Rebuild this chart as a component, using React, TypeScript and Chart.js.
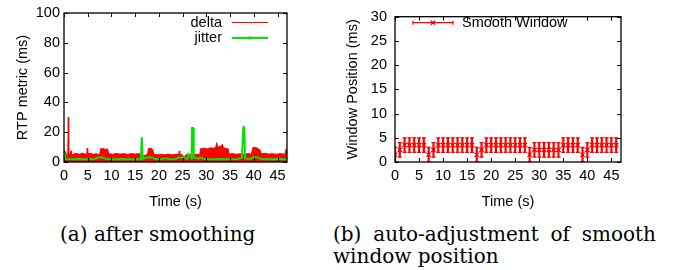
import React, { useEffect, useRef } from "react";
import { Chart, registerables } from "chart.js";

Chart.register(...registerables);

const FONT = "'Liberation Sans', Arial, Helvetica, sans-serif";
const FS = 14.5;
const RED = "#ff0000";
const GREEN = "#00e400";

// ---------- (a) after smoothing ----------
const xTickStep = 5;
const timeMax = 47;
const rtpTickStep = 20;
const rtpMax = 100;

const deltaTime = [
  0, 0.3, 0.6, 0.8, 0.9, 1.0, 1.2, 1.5, 1.6, 1.8, 2.5, 3.2, 3.8, 4.5, 4.8, 4.9, 5.0, 5.5, 6.2, 6.9,
  7.5, 7.7, 8.2, 8.8, 9.2, 9.4, 10.2, 11.0, 11.8, 12.6, 13.4, 14.2, 15.0, 15.8, 16.3, 16.6, 17.1, 17.6,
  17.8, 18.3, 18.7, 18.9, 19.6, 20.4, 21.2, 22.0, 22.8, 23.6, 24.2, 24.3, 24.4, 25.0, 25.2, 25.8, 26.5,
  27.2, 27.9, 28.6, 28.8, 29.5, 30.2, 30.9, 31.6, 32.0, 32.2, 32.4, 33.0, 33.4, 33.6, 34.1, 34.6, 34.8,
  35.5, 36.3, 37.1, 37.9, 38.7, 39.5, 39.8, 40.3, 40.8, 41.3, 41.6, 42.3, 43.1, 43.9, 44.7, 45.5, 46.2,
  46.6, 46.8, 47,
];
const deltaValues = [
  7, 7, 4.5, 4.5, 30, 4.5, 5, 7.5, 5.5, 5, 5.8, 5.2, 5.9, 5.3, 5.5, 9.2, 5.5, 5.8, 5.2, 5.6,
  4.5, 8.8, 9, 8.4, 8.8, 5.6, 5.2, 5.7, 5.3, 5.6, 5.2, 5.6, 5.3, 5.6, 5.2, 4.0, 4.5, 5,
  9, 9.3, 8.5, 5.2, 4.8, 5.2, 4.9, 5.3, 4.8, 5.2, 5, 7.4, 5, 4.8, 3, 5, 5.2,
  4.8, 5.2, 5, 9, 9.3, 8.8, 9.5, 9.2, 10, 13, 10, 10.5, 11.9, 9.5, 9.2, 8.8, 5.4,
  5.6, 5.2, 5.5, 5.2, 5.6, 5.3, 9.6, 9.8, 9.2, 8, 5.5, 5.8, 5.3, 5.6, 5.2, 5.6, 5.3,
  5.4, 8.7, 8.7,
];

const jitterTime = [
  0, 0.2, 0.35, 1.5, 3, 5, 6.5, 7.2, 8, 8.8, 10, 12, 14, 16.2, 16.4, 16.6, 17.3, 18.5, 19.2, 20.5,
  21.3, 22.2, 23.5, 24.2, 25.4, 26.0, 26.2, 26.6, 26.9, 27.0, 27.2, 27.35, 28.3, 28.7, 29.5, 31, 33,
  35, 36.8, 37.5, 37.8, 38.0, 38.15, 39.3, 39.8, 40.8, 41.5, 43, 45, 47,
];
const jitterValues = [
  8.5, 8.5, 2, 1.8, 2, 1.8, 2, 3, 3.2, 2.2, 1.8, 2, 1.8, 2, 16.5, 2, 3, 3.2, 2, 1.8,
  2.5, 1.8, 2, 3, 3, 2, 5.2, 4, 2.5, 22.8, 22.8, 3, 2.2, 3, 2, 1.8, 2,
  1.8, 2, 3, 23.3, 23.3, 2.5, 2, 3, 3.2, 2, 1.8, 2, 1.8,
];

// ---------- (b) auto-adjustment of smooth window position ----------
const windowTickStep = 5;
const windowMax = 30;
const windowTime = [
  0, 1, 2, 3, 4, 5, 6, 7, 8, 9, 10, 11, 12, 13, 14, 15, 16, 17, 18, 19, 20, 21, 22, 23,
  24, 25, 26, 27, 28, 29, 30, 31, 32, 33, 34, 35, 36, 37, 38, 39, 40, 41, 42, 43, 44, 45, 46,
];
const windowPosition = [
  1.5, 2.5, 3.5, 3.5, 3.5, 3.5, 3.5, 1.5, 2.5, 3.5, 3.5, 3.5, 3.5, 3.5, 3.5, 3.5, 3.5, 1.5, 2.5,
  3.5, 3.5, 3.5, 3.5, 3.5, 3.5, 3.5, 3.5, 3.5, 1.5, 2.5, 2.5, 2.5, 2.5, 2.5, 2.5, 3.5, 3.5, 3.5,
  3.5, 1.5, 2.5, 3.5, 3.5, 3.5, 3.5, 3.5, 3.5,
];
const windowError = [
  1.5, 1.5, 1.5, 1.5, 1.5, 1.5, 1.5, 1.5, 1.5, 1.5, 1.5, 1.5, 1.5, 1.5, 1.5, 1.5, 1.5, 1.5, 1.5,
  1.5, 1.5, 1.5, 1.5, 1.5, 1.5, 1.5, 1.5, 1.5, 1.5, 1.5, 1.5, 1.5, 1.5, 1.5, 1.5, 1.5, 1.5, 1.5,
  1.5, 1.5, 1.5, 1.5, 1.5, 1.5, 1.5, 1.5, 1.5,
];

// ---------- plugins ----------
const frameTicksPlugin = {
  id: "frameTicks",
  afterDatasetsDraw(chart: any) {
    const { ctx, chartArea: a, scales } = chart;
    const L = 4;
    ctx.save();
    ctx.strokeStyle = "#000";
    ctx.lineWidth = 1;
    ctx.beginPath();
    scales.x.ticks.forEach((t: any) => {
      const px = Math.round(scales.x.getPixelForValue(t.value)) + 0.5;
      ctx.moveTo(px, a.bottom);
      ctx.lineTo(px, a.bottom - L);
      ctx.moveTo(px, a.top);
      ctx.lineTo(px, a.top + L);
    });
    scales.y.ticks.forEach((t: any) => {
      const py = Math.round(scales.y.getPixelForValue(t.value)) + 0.5;
      ctx.moveTo(a.left, py);
      ctx.lineTo(a.left + L, py);
      ctx.moveTo(a.right, py);
      ctx.lineTo(a.right - L, py);
    });
    ctx.stroke();
    ctx.lineWidth = 1.3;
    ctx.strokeRect(a.left, a.top, a.right - a.left, a.bottom - a.top);
    ctx.restore();
  },
};

const legendAPlugin = {
  id: "legendA",
  afterDraw(chart: any) {
    const ctx = chart.ctx;
    const items = chart.data.datasets.filter((d: any) => d.label);
    ctx.save();
    ctx.font = `${FS}px ${FONT}`;
    ctx.textBaseline = "middle";
    ctx.textAlign = "right";
    items.forEach((d: any, i: number) => {
      const y = 22.5 + i * 15.5;
      ctx.fillStyle = "#000";
      ctx.fillText(d.label, 222, y);
      ctx.strokeStyle = d.borderColor;
      ctx.lineWidth = d.borderWidth;
      ctx.beginPath();
      ctx.moveTo(232, y);
      ctx.lineTo(268, y);
      ctx.stroke();
      if (d.legendPoint) {
        ctx.fillStyle = d.borderColor;
        ctx.fillRect(248.5, y - 1.5, 3, 3);
      }
    });
    ctx.restore();
  },
};

const legendBPlugin = {
  id: "legendB",
  afterDraw(chart: any) {
    const ctx = chart.ctx;
    const y = 22.7;
    const x0 = 113, x1 = 153, xm = 133;
    ctx.save();
    ctx.strokeStyle = RED;
    ctx.lineWidth = 1.2;
    ctx.beginPath();
    ctx.moveTo(x0, y);
    ctx.lineTo(x1, y);
    ctx.moveTo(x0, y - 2);
    ctx.lineTo(x0, y + 2);
    ctx.moveTo(x1, y - 2);
    ctx.lineTo(x1, y + 2);
    ctx.moveTo(xm - 2.2, y - 2.2);
    ctx.lineTo(xm + 2.2, y + 2.2);
    ctx.moveTo(xm - 2.2, y + 2.2);
    ctx.lineTo(xm + 2.2, y - 2.2);
    ctx.stroke();
    ctx.font = `${FS}px ${FONT}`;
    ctx.textBaseline = "middle";
    ctx.textAlign = "left";
    ctx.fillStyle = "#000";
    ctx.fillText("Smooth Window", 162, y);
    ctx.restore();
  },
};

function axisX(titlePadBottom: number) {
  return {
    type: "linear",
    min: 0,
    max: timeMax,
    offset: false,
    grid: { display: false, drawTicks: false },
    border: { display: false },
    ticks: {
      stepSize: xTickStep,
      includeBounds: false,
      autoSkip: false,
      maxRotation: 0,
      padding: 5.3,
      color: "#000",
      font: { family: FONT, size: FS },
    },
    title: {
      display: true,
      text: "Time (s)",
      color: "#000",
      font: { family: FONT, size: FS },
      padding: { top: 0, bottom: titlePadBottom },
    },
    afterFit: (s: any) => {
      s.height = 49;
    },
  };
}

function axisY(max: number, step: number, title: string, width: number, titlePad: number, tickPad: number) {
  return {
    type: "linear",
    min: 0,
    max,
    grid: { display: false, drawTicks: false },
    border: { display: false },
    ticks: {
      stepSize: step,
      includeBounds: false,
      autoSkip: false,
      padding: tickPad,
      color: "#000",
      font: { family: FONT, size: FS },
    },
    title: {
      display: true,
      text: title,
      color: "#000",
      font: { family: FONT, size: FS },
      padding: { top: titlePad, bottom: 0 },
    },
    afterFit: (s: any) => {
      s.width = width;
    },
  };
}

function makeLeftConfig(): any {
  return {
    type: "scatter",
    data: {
      datasets: [
        {
          type: "line",
          label: "delta",
          data: deltaTime.map((t, i) => ({ x: t, y: deltaValues[i] })),
          borderColor: RED,
          backgroundColor: RED,
          borderWidth: 1,
          pointRadius: 0,
          tension: 0,
          fill: "origin",
          order: 2,
        },
        {
          type: "line",
          label: "jitter",
          legendPoint: true,
          data: jitterTime.map((t, i) => ({ x: t, y: jitterValues[i] })),
          borderColor: GREEN,
          backgroundColor: GREEN,
          borderWidth: 2,
          pointRadius: 0,
          tension: 0,
          fill: false,
          order: 1,
        },
      ],
    },
    options: {
      animation: false,
      responsive: false,
      devicePixelRatio: 1,
      layout: { padding: { left: 0, top: 13, right: 13, bottom: 0 } },
      plugins: { legend: { display: false }, tooltip: { enabled: false } },
      scales: {
        x: axisX(0),
        y: axisY(rtpMax, rtpTickStep, "RTP metric (ms)", 64, 13.8, 4),
      },
    },
    plugins: [frameTicksPlugin, legendAPlugin],
  };
}

function makeRightConfig(): any {
  const bars = windowTime.map((t, i) => ({
    x: t,
    y: [windowPosition[i] - windowError[i], windowPosition[i] + windowError[i]],
  }));
  const caps = windowTime
    .map((t, i) => ({ x: t, y: windowPosition[i] - windowError[i] }))
    .concat(windowTime.map((t, i) => ({ x: t, y: windowPosition[i] + windowError[i] })));
  const marks = windowTime.map((t, i) => ({ x: t, y: windowPosition[i] }));
  return {
    type: "scatter",
    data: {
      datasets: [
        {
          type: "bar",
          data: bars,
          backgroundColor: RED,
          borderWidth: 0,
          barThickness: 1.5,
          order: 3,
        },
        {
          type: "scatter",
          data: caps,
          pointStyle: "line",
          pointRadius: 2,
          borderColor: RED,
          borderWidth: 1.3,
          order: 2,
        },
        {
          type: "scatter",
          label: "Smooth Window",
          data: marks,
          pointStyle: "crossRot",
          pointRadius: 3,
          borderColor: RED,
          backgroundColor: RED,
          borderWidth: 1.3,
          order: 1,
        },
      ],
    },
    options: {
      animation: false,
      responsive: false,
      devicePixelRatio: 1,
      layout: { padding: { left: 0, top: 13, right: 55, bottom: 0 } },
      plugins: { legend: { display: false }, tooltip: { enabled: false } },
      scales: {
        x: axisX(0),
        y: axisY(windowMax, windowTickStep, "Window Position (ms)", 95, 43.8, 8),
      },
    },
    plugins: [frameTicksPlugin, legendBPlugin],
  };
}

function ChartCanvas(props: { make: () => any; left: number; top: number; width: number; height: number }) {
  const ref = useRef<HTMLCanvasElement>(null);
  useEffect(() => {
    const chart = new Chart(ref.current as HTMLCanvasElement, props.make());
    return () => chart.destroy();
  }, []);
  return (
    <canvas
      ref={ref}
      width={props.width}
      height={props.height}
      style={{
        position: "absolute",
        left: props.left,
        top: props.top,
        width: props.width,
        height: props.height,
      }}
    />
  );
}

const captionFont: React.CSSProperties = {
  fontFamily: "'DejaVu Serif', serif",
  fontSize: 20,
  lineHeight: "22px",
  color: "#000",
};

export default function App() {
  return (
    <div
      style={{
        position: "fixed",
        left: 0,
        top: 0,
        width: 676,
        height: 270,
        background: "#fff",
        overflow: "hidden",
      }}
    >
      <ChartCanvas make={makeLeftConfig} left={0} top={0} width={300} height={211} />
      <ChartCanvas make={makeRightConfig} left={300} top={0} width={376} height={211} />
      <div style={{ ...captionFont, position: "absolute", left: 60, top: 223, whiteSpace: "nowrap" }}>
        (a) after smoothing
      </div>
      <div style={{ ...captionFont, position: "absolute", left: 333, top: 223, width: 323 }}>
        <div style={{ textAlign: "justify", textAlignLast: "justify", whiteSpace: "nowrap" as any }}>
          (b) auto-adjustment of smooth
        </div>
        <div style={{ whiteSpace: "nowrap" }}>window position</div>
      </div>
    </div>
  );
}
